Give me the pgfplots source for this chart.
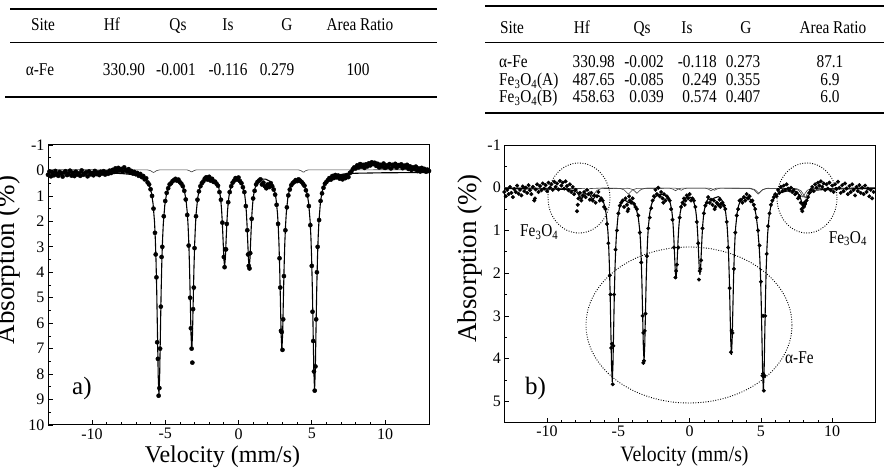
\documentclass[border=0pt]{standalone}
\usepackage{pgfplots}
\pgfplotsset{compat=1.18}
\usepackage{fontspec}
\setmainfont{Liberation Serif}
\newcommand{\fs}[1]{\fontsize{#1bp}{#1bp}\selectfont}
\newcommand{\tc}[1]{\scalebox{0.85}[1]{#1}}
\pgfplotsset{mss/.style={
  scale only axis, xmin=-13, xmax=13, y dir=reverse,
  axis line style={line width=1bp}, tick align=inside,
  xtick={-10,-5,0,5,10}, minor x tick num=4, minor y tick num=1,
  xtick pos=left, ytick pos=left,
  major tick length=5bp, minor tick length=3bp,
  tick style={black, line width=0.7bp},
  ticklabel style={font=\fs{16}},
  /pgf/number format/assume math mode=true,
}}
\begin{document}
\begin{tikzpicture}[x=1bp,y=1bp]
\useasboundingbox (0,0) rectangle (884,473);
% ---------------- tables ----------------
\draw[line width=1.2bp] (10,464) -- (437,464);
\draw[line width=1bp] (10,430) -- (437,430);
\draw[line width=1.2bp] (5,376) -- (437,376);
\begin{scope}[every node/.style={font=\fs{18}, inner sep=0pt, anchor=base}]
\node at (43,442.5) {\tc{Site}};
\node at (112,442.5) {\tc{Hf}};
\node at (178,442.5) {\tc{Qs}};
\node at (228,442.5) {\tc{Is}};
\node at (287,442.5) {\tc{G}};
\node at (360,442.5) {\tc{Area Ratio}};
\node at (40,397.5) {\tc{α-Fe}};
\node at (124,397.5) {\tc{330.90}};
\node at (176,397.5) {\tc{-0.001}};
\node at (228,397.5) {\tc{-0.116}};
\node at (277,397.5) {\tc{0.279}};
\node at (358,397.5) {\tc{100}};
\end{scope}
\draw[line width=1.2bp] (485,467) -- (884,467);
\draw[line width=1bp] (485,430) -- (884,430);
\draw[line width=1.2bp] (485,360) -- (884,360);
\begin{scope}[every node/.style={font=\fs{18}, inner sep=0pt, anchor=base}]
\node at (512,439.5) {\tc{Site}};
\node at (582,439.5) {\tc{Hf}};
\node at (642,439.5) {\tc{Qs}};
\node at (687,439.5) {\tc{Is}};
\node at (746,439.5) {\tc{G}};
\node at (833,439.5) {\tc{Area Ratio}};
\node[anchor=base west] at (499,405.5) {\tc{α-Fe}};
\node[anchor=base west] at (499,387.5) {\tc{Fe\textsubscript{3}O\textsubscript{4}(A)}};
\node[anchor=base west] at (499,370.5) {\tc{Fe\textsubscript{3}O\textsubscript{4}(B)}};
\node[anchor=base east] at (615,405.5) {\tc{330.98}};
\node[anchor=base east] at (615,387.5) {\tc{487.65}};
\node[anchor=base east] at (615,370.5) {\tc{458.63}};
\node[anchor=base east] at (664,405.5) {\tc{-0.002}};
\node[anchor=base east] at (664,387.5) {\tc{-0.085}};
\node[anchor=base east] at (664,370.5) {\tc{0.039}};
\node[anchor=base east] at (717,405.5) {\tc{-0.118}};
\node[anchor=base east] at (717,387.5) {\tc{0.249}};
\node[anchor=base east] at (717,370.5) {\tc{0.574}};
\node at (743,405.5) {\tc{0.273}};
\node at (743,387.5) {\tc{0.355}};
\node at (743,370.5) {\tc{0.407}};
\node at (830,405.5) {\tc{87.1}};
\node at (830,387.5) {\tc{6.9}};
\node at (830,370.5) {\tc{6.0}};
\end{scope}
% ---------------- panel a ----------------
\begin{axis}[mss, at={(48bp,48bp)}, anchor=south west, width=381bp, height=280bp,
  ymin=-1, ymax=10, ytick={-1,0,...,10}]
\addplot[only marks, mark=*, mark size=2.1bp, black] table {
x y
-13.0 0.17
-12.9 0.04
-12.8 0.23
-12.7 0.10
-12.6 0.19
-12.5 0.02
-12.4 0.15
-12.3 0.21
-12.2 0.06
-12.1 0.12
-12.0 0.24
-11.9 0.08
-11.8 0.03
-11.7 0.18
-11.6 0.14
-11.5 0.01
-11.4 0.20
-11.3 0.09
-11.2 0.22
-11.1 0.05
-11.0 0.16
-10.9 0.11
-10.8 0.21
-10.7 0.00
-10.6 0.17
-10.5 0.13
-10.4 0.07
-10.3 0.23
-10.2 0.04
-10.1 0.15
-10.0 0.10
-9.9 0.19
-9.8 0.02
-9.7 0.14
-9.6 0.08
-9.5 0.18
-9.4 0.05
-9.3 0.12
-9.2 0.03
-9.1 0.16
-9.0 0.07
-8.9 0.13
-8.8 0.01
-8.7 0.10
-8.6 -0.02
-8.5 0.06
-8.4 -0.08
-8.3 0.03
-8.2 -0.10
-8.1 0.00
-8.0 -0.06
-7.9 0.05
-7.8 -0.12
-7.7 -0.02
-7.6 0.04
-7.5 -0.05
-7.4 0.08
-7.3 0.02
-7.2 0.12
-7.1 0.06
-7.0 0.15
-6.9 0.10
-6.8 0.21
-6.7 0.14
-6.6 0.26
-6.5 0.22
-6.4 0.35
-6.3 0.31
-6.2 0.47
-6.1 0.55
-6.0 0.74
-5.9 1.00
-5.8 1.50
-5.7 2.45
-5.6 4.20
-5.5 7.40
-5.4 8.55
-5.3 5.35
-5.2 3.00
-5.1 1.80
-5.0 1.20
-4.9 0.88
-4.8 0.70
-4.7 0.55
-4.6 0.50
-4.5 0.42
-4.4 0.38
-4.3 0.33
-4.2 0.40
-4.1 0.36
-4.0 0.46
-3.9 0.52
-3.8 0.62
-3.7 0.80
-3.6 1.14
-3.5 1.75
-3.4 2.95
-3.3 5.00
-3.2 7.00
-3.1 5.45
-3.0 3.05
-2.9 1.80
-2.8 1.15
-2.7 0.82
-2.6 0.62
-2.5 0.50
-2.4 0.43
-2.3 0.32
-2.2 0.27
-2.1 0.36
-2.0 0.25
-1.9 0.40
-1.8 0.33
-1.7 0.45
-1.6 0.44
-1.5 0.52
-1.4 0.60
-1.3 0.85
-1.2 1.15
-1.1 2.05
-1.0 3.40
-0.9 3.10
-0.8 2.10
-0.7 1.25
-0.6 0.85
-0.5 0.62
-0.4 0.48
-0.3 0.40
-0.2 0.30
-0.1 0.36
0.0 0.28
0.1 0.42
0.2 0.50
0.3 0.66
0.4 0.85
0.5 1.40
0.6 2.35
0.7 3.75
0.8 3.25
0.9 1.90
1.0 1.10
1.1 0.80
1.2 0.55
1.3 0.45
1.4 0.40
1.5 0.35
1.6 0.55
1.7 0.48
1.8 0.62
1.9 0.70
2.0 0.55
2.1 0.65
2.2 0.50
2.3 0.62
2.4 0.75
2.5 0.95
2.6 1.35
2.7 2.10
2.8 3.45
2.9 6.30
3.0 7.05
3.1 4.15
3.2 2.35
3.3 1.45
3.4 0.98
3.5 0.75
3.6 0.58
3.7 0.50
3.8 0.45
3.9 0.38
4.0 0.42
4.1 0.35
4.2 0.40
4.3 0.45
4.4 0.52
4.5 0.60
4.6 0.78
4.7 0.98
4.8 1.40
4.9 2.15
5.0 3.75
5.1 6.70
5.2 8.65
5.3 5.85
5.4 3.00
5.5 1.95
5.6 1.20
5.7 0.90
5.8 0.68
5.9 0.52
6.0 0.45
6.1 0.38
6.2 0.30
6.3 0.36
6.4 0.22
6.5 0.30
6.6 0.18
6.7 0.27
6.8 0.20
6.9 0.32
7.0 0.25
7.1 0.35
7.2 0.22
7.3 0.30
7.4 0.18
7.5 0.26
7.6 0.10
7.7 0.05
7.8 -0.05
7.9 -0.12
8.0 -0.08
8.1 -0.20
8.2 -0.12
8.3 -0.25
8.4 -0.15
8.5 -0.22
8.6 -0.10
8.7 -0.24
8.8 -0.16
8.9 -0.28
9.0 -0.20
9.1 -0.32
9.2 -0.25
9.3 -0.30
9.4 -0.18
9.5 -0.26
9.6 -0.12
9.7 -0.22
9.8 -0.15
9.9 -0.27
10.0 -0.10
10.1 -0.20
10.2 -0.14
10.3 -0.25
10.4 -0.08
10.5 -0.22
10.6 -0.16
10.7 -0.26
10.8 -0.11
10.9 -0.21
11.0 -0.17
11.1 -0.24
11.2 -0.09
11.3 -0.19
11.4 -0.13
11.5 -0.22
11.6 -0.06
11.7 -0.16
11.8 -0.02
11.9 -0.12
12.0 -0.05
12.1 -0.15
12.2 0.02
12.3 -0.08
12.4 0.04
12.5 -0.10
12.6 0.01
12.7 -0.06
12.8 0.05
12.9 -0.03
13.0 0.02
-5.45 8.85
-5.35 7.00
-5.55 6.75
-5.65 3.30
-5.25 3.40
-3.15 7.55
-3.25 6.20
-3.05 4.60
-0.95 3.80
-0.85 3.10
0.75 3.85
0.65 3.30
2.95 6.35
3.05 5.85
2.85 4.60
5.15 7.90
5.25 7.70
5.05 5.55
5.35 4.00
};
\addplot[black!75, line width=0.6bp] table {
x y
-13 -0.03
-6.2 -0.02
-6.0 0.01
-5.9 0.05
-5.8 0.08
-5.7 0.05
-5.6 0.01
-5.4 -0.02
-3.5 -0.02
-3.35 0.01
-3.25 0.05
-3.15 0.05
-3.05 0.01
-2.9 -0.02
4.1 -0.02
4.28 0.01
4.38 0.06
4.48 0.06
4.58 0.01
4.75 -0.02
13 -0.03
};
\addplot[black, line width=1.1bp] table {
x y
-13 0.085
-10 0.09
-8 0.12
-7.43 0.15
-6.93 0.19
-6.53 0.28
-6.23 0.44
-6.03 0.68
-5.93 0.92
-5.83 1.31
-5.73 2.03
-5.68 2.65
-5.63 3.51
-5.58 4.75
-5.53 6.38
-5.48 8.05
-5.43 8.82
-5.38 8.06
-5.33 6.40
-5.28 4.77
-5.23 3.54
-5.18 2.68
-5.13 2.08
-5.03 1.37
-4.93 0.99
-4.83 0.77
-4.63 0.51
-4.31 0.41
-3.99 0.46
-3.79 0.63
-3.69 0.82
-3.59 1.12
-3.49 1.69
-3.44 2.18
-3.39 2.86
-3.34 3.84
-3.29 5.13
-3.24 6.46
-3.19 7.07
-3.14 6.46
-3.09 5.13
-3.04 3.84
-2.99 2.86
-2.94 2.18
-2.89 1.69
-2.79 1.10
-2.69 0.79
-2.59 0.61
-2.39 0.42
-2.07 0.32
-1.75 0.34
-1.55 0.42
-1.45 0.51
-1.35 0.67
-1.25 0.98
-1.20 1.23
-1.15 1.58
-1.10 2.10
-1.05 2.77
-1.00 3.46
-0.95 3.78
-0.90 3.46
-0.85 2.79
-0.80 2.12
-0.75 1.60
-0.70 1.26
-0.65 1.01
-0.55 0.71
-0.35 0.44
-0.11 0.38
0.13 0.44
0.23 0.53
0.33 0.68
0.43 0.98
0.48 1.23
0.53 1.59
0.58 2.11
0.63 2.79
0.68 3.50
0.73 3.82
0.78 3.49
0.83 2.78
0.88 2.10
0.93 1.58
0.98 1.22
1.03 0.97
1.13 0.69
1.23 0.53
1.33 0.44
1.53 0.34
1.85 0.34
2.16 0.43
2.36 0.62
2.46 0.80
2.56 1.11
2.66 1.68
2.71 2.17
2.76 2.85
2.81 3.83
2.86 5.12
2.91 6.45
2.96 7.06
3.01 6.45
3.06 5.12
3.11 3.83
3.16 2.85
3.21 2.17
3.26 1.68
3.36 1.11
3.46 0.80
3.56 0.62
3.76 0.48
4.07 0.41
4.39 0.51
4.59 0.71
4.69 0.93
4.79 1.30
4.89 2.01
4.94 2.60
4.99 3.45
5.04 4.65
5.09 6.24
5.14 7.87
5.19 8.63
5.24 7.85
5.29 6.22
5.34 4.63
5.39 3.42
5.44 2.58
5.49 1.98
5.59 1.26
5.69 0.87
5.79 0.63
5.99 0.43
6.29 0.27
6.69 0.19
7.19 0.14
8 0.11
10 0.09
13 0.085
};
\end{axis}
% ---------------- panel b ----------------
\begin{axis}[mss, at={(504.3bp,50.3bp)}, anchor=south west, width=370.7bp, height=277.7bp,
  ymin=-1, ymax=5.5, ytick={-1,0,...,5}]
\addplot[only marks, mark=*, mark size=1.8bp, black] table {
x y
-13.0 0.10
-12.9 0.20
-12.8 0.05
-12.7 0.15
-12.6 -0.02
-12.5 0.12
-12.4 0.22
-12.3 0.03
-12.2 0.10
-12.1 -0.05
-12.0 0.14
-11.9 0.05
-11.8 0.18
-11.7 -0.03
-11.6 0.08
-11.5 0.00
-11.4 0.12
-11.3 -0.06
-11.2 0.06
-11.1 0.15
-11.0 -0.02
-10.9 0.30
-10.8 0.04
-10.7 -0.08
-10.6 0.10
-10.5 -0.04
-10.4 0.06
-10.3 -0.10
-10.2 0.02
-10.1 -0.06
-10.0 0.08
-9.9 -0.12
-9.8 0.00
-9.7 -0.08
-9.6 0.05
-9.5 -0.14
-9.4 -0.02
-9.3 -0.10
-9.2 0.04
-9.1 -0.16
-9.0 -0.05
-8.9 -0.12
-8.8 0.02
-8.7 -0.15
-8.6 -0.04
-8.5 0.06
-8.4 -0.08
-8.3 0.10
-8.2 -0.02
-8.1 0.15
-8.0 0.05
-7.9 0.55
-7.8 0.25
-7.7 0.12
-7.6 0.30
-7.5 0.18
-7.4 0.10
-7.3 0.22
-7.2 0.05
-7.1 0.15
-7.0 0.28
-6.9 0.12
-6.8 0.30
-6.7 0.18
-6.6 0.35
-6.5 0.20
-6.4 0.10
-6.3 0.30
-6.2 0.25
-6.1 0.30
-6.0 0.45
-5.9 0.50
-5.8 0.85
-5.7 1.30
-5.6 2.05
-5.5 3.75
-5.4 4.60
-5.3 2.50
-5.2 1.45
-5.1 1.00
-5.0 0.60
-4.9 0.42
-4.8 0.35
-4.7 0.30
-4.6 0.45
-4.5 0.25
-4.4 0.40
-4.3 0.50
-4.2 0.30
-4.1 0.35
-4.0 0.25
-3.9 0.38
-3.8 0.45
-3.7 0.50
-3.6 0.65
-3.5 1.05
-3.4 1.75
-3.3 3.00
-3.2 4.05
-3.1 2.95
-3.0 1.60
-2.9 0.95
-2.8 0.70
-2.7 0.48
-2.6 0.30
-2.5 0.20
-2.4 0.05
-2.3 0.15
-2.2 0.00
-2.1 0.20
-2.0 0.10
-1.9 0.25
-1.8 0.15
-1.7 0.30
-1.6 0.20
-1.5 0.25
-1.4 0.30
-1.3 0.50
-1.2 0.75
-1.1 1.40
-1.0 2.10
-0.9 1.80
-0.8 1.40
-0.7 0.70
-0.6 0.45
-0.5 0.35
-0.4 0.25
-0.3 0.30
-0.2 0.18
-0.1 0.25
0.0 0.15
0.1 0.30
0.2 0.25
0.3 0.30
0.4 0.45
0.5 0.80
0.6 1.30
0.7 1.95
0.8 1.70
0.9 0.95
1.0 0.60
1.1 0.42
1.2 0.35
1.3 0.22
1.4 0.35
1.5 0.28
1.6 0.40
1.7 0.30
1.8 0.45
1.9 0.35
2.0 0.40
2.1 0.28
2.2 0.38
2.3 0.35
2.4 0.42
2.5 0.50
2.6 0.80
2.7 1.40
2.8 2.35
2.9 3.85
3.0 3.40
3.1 1.90
3.2 1.05
3.3 0.65
3.4 0.50
3.5 0.30
3.6 0.28
3.7 0.35
3.8 0.22
3.9 0.30
4.0 0.15
4.1 0.25
4.2 0.20
4.3 0.32
4.4 0.30
4.5 0.40
4.6 0.50
4.7 0.70
4.8 1.00
4.9 1.35
5.0 2.20
5.1 4.40
5.2 4.75
5.3 3.00
5.4 1.55
5.5 0.90
5.6 0.60
5.7 0.40
5.8 0.30
5.9 0.22
6.0 0.15
6.1 0.20
6.2 0.05
6.3 0.12
6.4 -0.02
6.5 0.08
6.6 -0.05
6.7 0.05
6.8 -0.08
6.9 0.02
7.0 0.06
7.1 0.00
7.2 0.10
7.3 0.05
7.4 0.15
7.5 0.12
7.6 0.25
7.7 0.20
7.8 0.35
7.9 0.55
8.0 0.45
8.1 0.38
8.2 0.30
8.3 0.22
8.4 0.12
8.5 0.05
8.6 -0.02
8.7 0.08
8.8 -0.08
8.9 0.00
9.0 -0.12
9.1 -0.05
9.2 -0.15
9.3 -0.02
9.4 -0.10
9.5 0.05
9.6 -0.08
9.7 0.02
9.8 -0.12
9.9 0.06
10.0 -0.05
10.1 0.10
10.2 -0.08
10.3 0.03
10.4 -0.14
10.5 0.00
10.6 0.12
10.7 -0.06
10.8 0.08
10.9 -0.10
11.0 0.02
11.1 0.15
11.2 -0.04
11.3 0.10
11.4 -0.08
11.5 0.05
11.6 0.18
11.7 -0.02
11.8 0.08
11.9 -0.06
12.0 0.12
12.1 0.00
12.2 0.15
12.3 -0.05
12.4 0.10
12.5 0.02
12.6 0.20
12.7 0.05
12.8 0.25
12.9 0.10
-5.35 3.70
-5.55 2.50
-5.45 3.65
-3.25 4.10
-3.15 3.35
-3.25 3.40
-0.95 1.95
0.65 2.15
0.75 1.90
2.95 3.35
5.15 4.35
5.25 4.40
5.15 3.00
-4.35 0.55
-4.25 0.20
-1.85 0.35
-0.35 0.40
1.75 0.50
2.15 0.45
-7.85 0.40
7.85 0.50
7.95 0.40
8.05 0.35
-10.85 0.25
};
\addplot[black!75, line width=0.6bp] table {
x y
-13 0
-8.2 0.02
-7.9 0.07
-7.75 0.14
-7.6 0.24
-7.45 0.14
-7.3 0.07
-7.0 0.02
-6.0 0.005
-4.9 0.015
-4.6 0.05
-4.45 0.10
-4.3 0.15
-4.15 0.10
-4.0 0.05
-3.7 0.015
-1.4 0.01
-1.2 0.03
-0.99 0.07
-0.8 0.03
-0.6 0.01
1.1 0.01
1.3 0.03
1.49 0.07
1.7 0.03
1.9 0.01
4.2 0.015
4.5 0.05
4.65 0.10
4.8 0.15
4.95 0.10
5.1 0.05
5.4 0.015
7.5 0.02
7.8 0.07
7.95 0.14
8.1 0.24
8.25 0.14
8.4 0.07
8.7 0.02
13 0
};
\addplot[black!75, line width=0.6bp] table {
x y
-13 0
-7.4 0.02
-7.1 0.06
-6.96 0.13
-6.81 0.22
-6.66 0.13
-6.5 0.06
-6.2 0.02
-4.3 0.013
-4.0 0.04
-3.85 0.08
-3.7 0.13
-3.55 0.08
-3.4 0.04
-3.1 0.013
-1.0 0.01
-0.8 0.025
-0.59 0.06
-0.4 0.025
-0.2 0.01
1.35 0.01
1.55 0.025
1.74 0.06
1.95 0.025
2.15 0.01
4.25 0.013
4.55 0.04
4.7 0.08
4.85 0.13
5.0 0.08
5.15 0.04
5.45 0.013
7.35 0.02
7.65 0.06
7.8 0.13
7.95 0.22
8.1 0.13
8.25 0.06
8.55 0.02
13 0
};
\addplot[black, line width=1.1bp] table {
x y
-13 0.02
-10 0.03
-8.6 0.04
-8.2 0.06
-7.9 0.11
-7.6 0.27
-7.3 0.14
-7.0 0.17
-6.81 0.28
-6.6 0.20
-6.4 0.18
-6.2 0.24
-6.03 0.35
-5.93 0.47
-5.83 0.67
-5.73 1.04
-5.68 1.36
-5.63 1.81
-5.58 2.44
-5.53 3.29
-5.48 4.15
-5.43 4.55
-5.38 4.15
-5.33 3.29
-5.28 2.44
-5.23 1.82
-5.18 1.37
-5.13 1.05
-5.03 0.68
-4.93 0.48
-4.83 0.38
-4.63 0.29
-4.45 0.31
-4.3 0.35
-4.1 0.31
-4.0 0.32
-3.8 0.45
-3.7 0.56
-3.6 0.70
-3.5 1.00
-3.45 1.25
-3.4 1.64
-3.35 2.20
-3.3 2.94
-3.25 3.70
-3.2 4.06
-3.15 3.69
-3.1 2.93
-3.05 2.18
-3.0 1.61
-2.95 1.21
-2.9 0.93
-2.8 0.60
-2.7 0.42
-2.6 0.32
-2.4 0.21
-2.08 0.15
-1.76 0.17
-1.56 0.21
-1.46 0.27
-1.36 0.36
-1.26 0.52
-1.21 0.67
-1.16 0.88
-1.11 1.17
-1.06 1.56
-1.01 1.95
-0.96 2.13
-0.91 1.95
-0.86 1.58
-0.81 1.20
-0.76 0.92
-0.71 0.72
-0.66 0.58
-0.56 0.41
-0.46 0.32
-0.36 0.26
-0.16 0.21
0.12 0.23
0.22 0.28
0.32 0.37
0.42 0.52
0.47 0.66
0.52 0.85
0.57 1.13
0.62 1.49
0.67 1.87
0.72 2.04
0.77 1.87
0.82 1.49
0.87 1.13
0.92 0.86
0.97 0.67
1.02 0.54
1.12 0.38
1.22 0.30
1.32 0.26
1.49 0.28
1.74 0.24
2.0 0.21
2.13 0.23
2.33 0.33
2.43 0.42
2.53 0.59
2.63 0.91
2.68 1.18
2.73 1.56
2.78 2.11
2.83 2.83
2.88 3.57
2.93 3.91
2.98 3.57
3.03 2.83
3.08 2.11
3.13 1.56
3.18 1.18
3.23 0.91
3.33 0.59
3.43 0.42
3.53 0.33
3.73 0.25
4.05 0.22
4.37 0.30
4.57 0.49
4.67 0.67
4.77 0.95
4.87 1.35
4.92 1.65
4.97 2.07
5.02 2.69
5.07 3.52
5.12 4.37
5.17 4.76
5.22 4.33
5.27 3.41
5.32 2.54
5.37 1.87
5.42 1.41
5.47 1.08
5.57 0.68
5.67 0.47
5.77 0.35
5.97 0.22
6.3 0.12
6.8 0.08
7.3 0.07
7.5 0.10
7.65 0.16
7.8 0.27
7.95 0.44
8.1 0.44
8.25 0.27
8.4 0.14
8.7 0.06
10 0.03
13 0.02
};
\end{axis}
% ---------------- annotations ----------------
\begin{scope}[line width=0.9bp, dash pattern=on 0.9bp off 1.6bp]
\draw (579,275) ellipse [x radius=31, y radius=35];
\draw (807,275) ellipse [x radius=30, y radius=35];
\draw (689,148) ellipse [x radius=103, y radius=78];
\end{scope}
\node[font=\fs{18}, inner sep=0pt, anchor=base west] at (520,236) {\tc{Fe\textsubscript{3}O\textsubscript{4}}};
\node[font=\fs{18}, inner sep=0pt, anchor=base west] at (828.7,229.7) {\tc{Fe\textsubscript{3}O\textsubscript{4}}};
\node[font=\fs{18}, inner sep=0pt, anchor=base west] at (785,109.7) {\tc{α-Fe}};
\node[font=\fs{25}, inner sep=0pt, anchor=base west] at (72,78) {a)};
\node[font=\fs{25}, inner sep=0pt, anchor=base west] at (525,78) {b)};
% axis labels
\node[font=\fs{24}, inner sep=0pt, anchor=base] at (222.5,10) {Velocity (mm/s)};
\node[font=\fs{22}, inner sep=0pt, anchor=base] at (684.5,11.3) {\scalebox{0.9}[1]{Velocity (mm/s)}};
\node[font=\fs{27}, inner sep=0pt, anchor=base, rotate=90] at (14,213) {Absorption (\%)};
\node[font=\fs{27}, inner sep=0pt, anchor=base, rotate=90] at (476.7,214.5) {Absorption (\%)};
\end{tikzpicture}
\end{document}
